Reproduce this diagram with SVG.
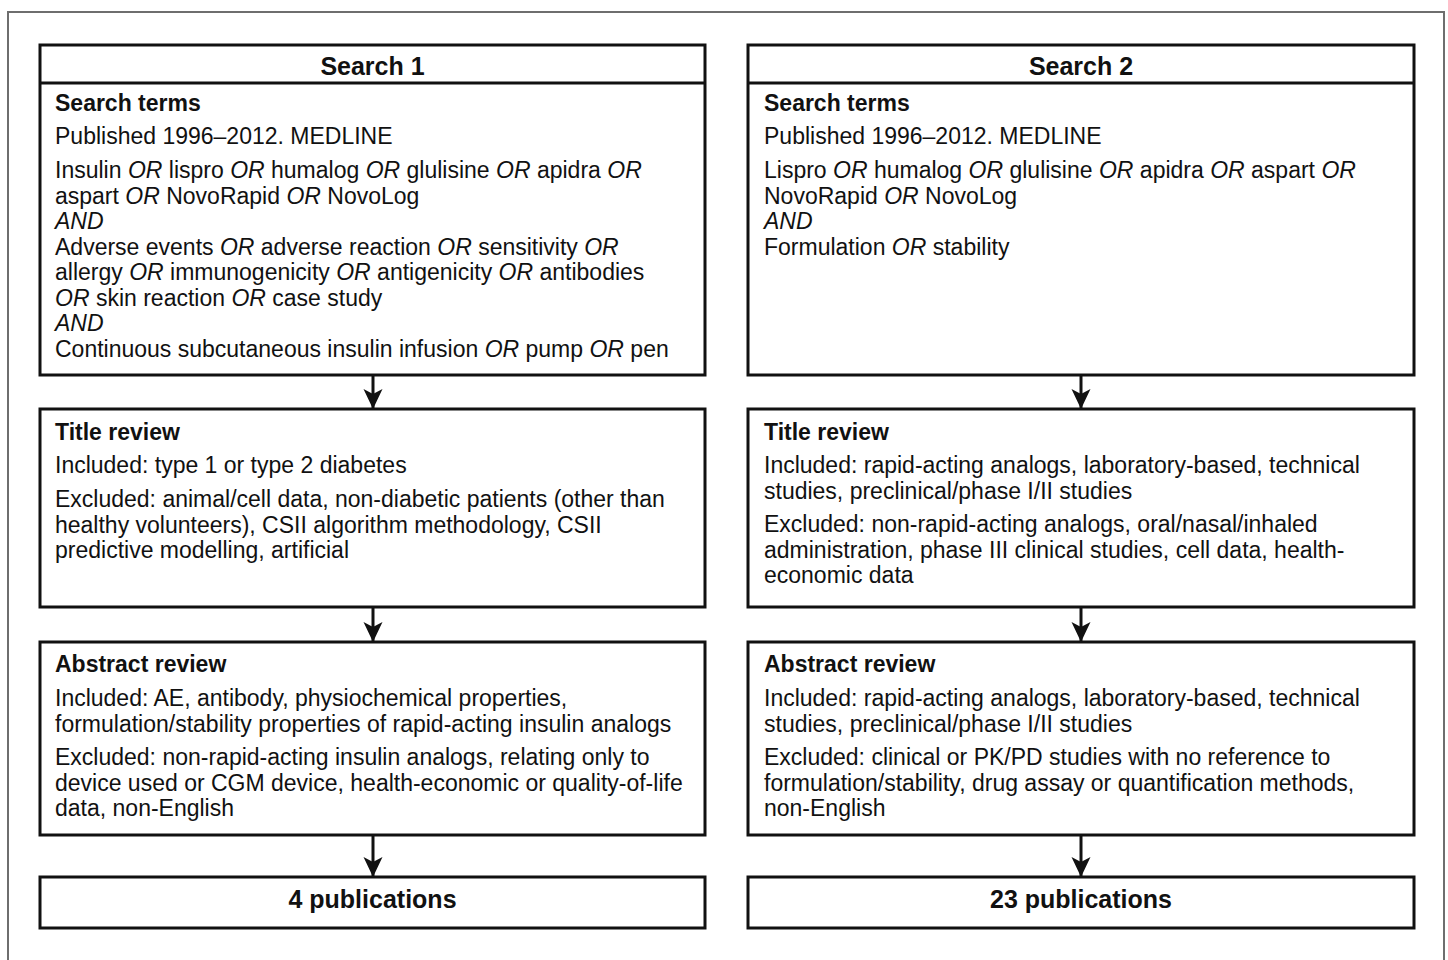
<svg xmlns="http://www.w3.org/2000/svg" width="1448" height="960" viewBox="0 0 1448 960">
<defs>
<style>
.bx{fill:#fff;stroke:#111;stroke-width:3}
.t{font-family:"Liberation Sans",Arial,sans-serif;font-size:23px;fill:#111}
.b{font-weight:bold}
.h{font-family:"Liberation Sans",Arial,sans-serif;font-size:25px;font-weight:bold;fill:#111;text-anchor:middle}
.i{font-style:italic}
.cn{stroke:#111;stroke-width:3;fill:none}
</style>
<marker id="ah" markerUnits="userSpaceOnUse" markerWidth="20" markerHeight="22" viewBox="0 0 20 22" refX="20" refY="11" orient="auto">
<path d="M0,1.5 L20,11 L0,20.5 L5,11 z" fill="#111"/>
</marker>
</defs>
<rect x="0" y="0" width="1448" height="960" fill="#fff"/>
<rect x="8" y="12" width="1436" height="970" fill="none" stroke="#6e6e6e" stroke-width="2"/>

<g id="connectors">
<line class="cn" x1="373" y1="376" x2="373" y2="409" marker-end="url(#ah)"/>
<line class="cn" x1="373" y1="608" x2="373" y2="642" marker-end="url(#ah)"/>
<line class="cn" x1="373" y1="836" x2="373" y2="877" marker-end="url(#ah)"/>
<line class="cn" x1="1081" y1="376" x2="1081" y2="409" marker-end="url(#ah)"/>
<line class="cn" x1="1081" y1="608" x2="1081" y2="642" marker-end="url(#ah)"/>
<line class="cn" x1="1081" y1="836" x2="1081" y2="877" marker-end="url(#ah)"/>
</g>

<g id="search1">
<rect class="bx" x="40" y="45" width="665" height="330"/>
<line x1="40" y1="83" x2="705" y2="83" stroke="#111" stroke-width="3"/>
<text class="h" x="372.5" y="75">Search 1</text>
<text class="t b" x="55" y="111">Search terms</text>
<text class="t" x="55" y="144">Published 1996–2012. MEDLINE</text>
<text class="t" x="55" y="178">Insulin <tspan class="i">OR</tspan> lispro <tspan class="i">OR</tspan> humalog <tspan class="i">OR</tspan> glulisine <tspan class="i">OR</tspan> apidra <tspan class="i">OR</tspan></text>
<text class="t" x="55" y="203.5">aspart <tspan class="i">OR</tspan> NovoRapid <tspan class="i">OR</tspan> NovoLog</text>
<text class="t i" x="55" y="229">AND</text>
<text class="t" x="55" y="254.5">Adverse events <tspan class="i">OR</tspan> adverse reaction <tspan class="i">OR</tspan> sensitivity <tspan class="i">OR</tspan></text>
<text class="t" x="55" y="280">allergy <tspan class="i">OR</tspan> immunogenicity <tspan class="i">OR</tspan> antigenicity <tspan class="i">OR</tspan> antibodies</text>
<text class="t" x="55" y="305.5"><tspan class="i">OR</tspan> skin reaction <tspan class="i">OR</tspan> case study</text>
<text class="t i" x="55" y="331">AND</text>
<text class="t" x="55" y="356.5">Continuous subcutaneous insulin infusion <tspan class="i">OR</tspan> pump <tspan class="i">OR</tspan> pen</text>
</g>

<g id="title1">
<rect class="bx" x="40" y="409" width="665" height="198"/>
<text class="t b" x="55" y="440">Title review</text>
<text class="t" x="55" y="473">Included: type 1 or type 2 diabetes</text>
<text class="t" x="55" y="507">Excluded: animal/cell data, non-diabetic patients (other than</text>
<text class="t" x="55" y="532.5">healthy volunteers), CSII algorithm methodology, CSII</text>
<text class="t" x="55" y="558">predictive modelling, artificial</text>
</g>

<g id="abstract1">
<rect class="bx" x="40" y="642" width="665" height="193"/>
<text class="t b" x="55" y="672">Abstract review</text>
<text class="t" x="55" y="706">Included: AE, antibody, physiochemical properties,</text>
<text class="t" x="55" y="731.5">formulation/stability properties of rapid-acting insulin analogs</text>
<text class="t" x="55" y="765">Excluded: non-rapid-acting insulin analogs, relating only to</text>
<text class="t" x="55" y="790.5">device used or CGM device, health-economic or quality-of-life</text>
<text class="t" x="55" y="816">data, non-English</text>
</g>

<g id="result1">
<rect class="bx" x="40" y="877" width="665" height="51"/>
<text class="h" x="372.5" y="908">4 publications</text>
</g>

<g id="search2">
<rect class="bx" x="748" y="45" width="666" height="330"/>
<line x1="748" y1="83" x2="1414" y2="83" stroke="#111" stroke-width="3"/>
<text class="h" x="1081" y="75">Search 2</text>
<text class="t b" x="764" y="111">Search terms</text>
<text class="t" x="764" y="144">Published 1996–2012. MEDLINE</text>
<text class="t" x="764" y="178">Lispro <tspan class="i">OR</tspan> humalog <tspan class="i">OR</tspan> glulisine <tspan class="i">OR</tspan> apidra <tspan class="i">OR</tspan> aspart <tspan class="i">OR</tspan></text>
<text class="t" x="764" y="203.5">NovoRapid <tspan class="i">OR</tspan> NovoLog</text>
<text class="t i" x="764" y="229">AND</text>
<text class="t" x="764" y="254.5">Formulation <tspan class="i">OR</tspan> stability</text>
</g>

<g id="title2">
<rect class="bx" x="748" y="409" width="666" height="198"/>
<text class="t b" x="764" y="440">Title review</text>
<text class="t" x="764" y="473">Included: rapid-acting analogs, laboratory-based, technical</text>
<text class="t" x="764" y="498.5">studies, preclinical/phase I/II studies</text>
<text class="t" x="764" y="532">Excluded: non-rapid-acting analogs, oral/nasal/inhaled</text>
<text class="t" x="764" y="557.5">administration, phase III clinical studies, cell data, health-</text>
<text class="t" x="764" y="583">economic data</text>
</g>

<g id="abstract2">
<rect class="bx" x="748" y="642" width="666" height="193"/>
<text class="t b" x="764" y="672">Abstract review</text>
<text class="t" x="764" y="706">Included: rapid-acting analogs, laboratory-based, technical</text>
<text class="t" x="764" y="731.5">studies, preclinical/phase I/II studies</text>
<text class="t" x="764" y="765">Excluded: clinical or PK/PD studies with no reference to</text>
<text class="t" x="764" y="790.5">formulation/stability, drug assay or quantification methods,</text>
<text class="t" x="764" y="816">non-English</text>
</g>

<g id="result2">
<rect class="bx" x="748" y="877" width="666" height="51"/>
<text class="h" x="1081" y="908">23 publications</text>
</g>
</svg>
